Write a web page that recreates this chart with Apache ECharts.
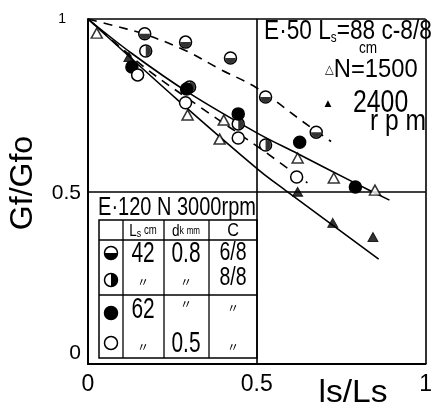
<!DOCTYPE html>
<html><head><meta charset="utf-8">
<script src="https://cdn.jsdelivr.net/npm/echarts@6/dist/echarts.min.js"></script>
<style>html,body{margin:0;padding:0;background:#fff}#c{width:435px;height:412px}</style>
</head><body><div id="c"></div>
<script>
const FONT = '"Liberation Sans",Arial,sans-serif';

// E-120, N = 3000 rpm test points (ls/Ls, Gf/Gfo)
const halfLowerPts = [[0.168,0.957],[0.289,0.933],[0.422,0.887],[0.526,0.774],[0.676,0.672]]; // Ls 42 cm, dk 0.8 mm, C 6/8
const halfRightPts = [[0.171,0.907],[0.301,0.803],[0.445,0.696],[0.526,0.635]];             // Ls 42 cm, dk 0.8 mm, C 8/8
const filledPts    = [[0.13,0.861],[0.292,0.797],[0.445,0.725],[0.627,0.643],[0.792,0.513]];  // Ls 62 cm, dk 0.8 mm
const openPts      = [[0.147,0.838],[0.289,0.757],[0.445,0.655],[0.618,0.542]];               // Ls 62 cm, dk 0.5 mm
// E-50, Ls = 88 cm, c = 8/8
const tri1500 = [[0.026,0.959],[0.295,0.722],[0.402,0.707],[0.39,0.652],[0.621,0.597],[0.728,0.539],[0.85,0.504]];
const tri2400 = [[0.121,0.89],[0.621,0.499],[0.725,0.409],[0.844,0.368]];

// hand-fitted trend curves
const dashUpper  = [[0,1],[0.06,0.985],[0.17,0.955],[0.29,0.908],[0.39,0.855],[0.5,0.8],[0.64,0.7],[0.72,0.645]];
const dashLower  = [[0,1],[0.17,0.858],[0.332,0.745],[0.517,0.62],[0.65,0.525]];
const solidUpper = [[0,1],[0.13,0.9],[0.3,0.785],[0.5,0.67],[0.62,0.61],[0.79,0.525],[0.893,0.475]];
const solidLower = [[0,1],[0.266,0.765],[0.506,0.562],[0.584,0.504],[0.861,0.304]];

const xTicks = [0, 0.5, 1];
const yTicks = [0, 0.5, 1];

const HALF_LOWER = 'path://M0,0 A1,1 0 0 0 2,0 Z';
const HALF_RIGHT = 'path://M0,0 A1,1 0 0 1 0,2 Z';
const R = 12;

function curve(data, dashed) {
  return { type: 'line', data, smooth: 0.35, symbol: 'none', silent: true, z: 2,
    lineStyle: { color: '#000', width: 1.6, type: dashed ? [9, 7] : 'solid' } };
}
function ring(data, fill) {
  return { type: 'scatter', data, symbol: 'circle', symbolSize: R, z: 3,
    itemStyle: { color: fill, borderColor: '#000', borderWidth: 1.5, opacity: 1 } };
}

const chart = echarts.init(document.getElementById('c'), null, { renderer: 'canvas' });

// lettering helper: narrow stencil-like text via horizontal scaling
function txt(x, y, text, size, sx, extra) {
  return { type: 'text', x, y, scaleX: sx == null ? 0.78 : sx, silent: true,
    style: Object.assign({ text, font: size + 'px ' + FONT, fill: '#000', align: 'center', verticalAlign: 'middle' }, extra || {}) };
}
function ditto(x, y) { return { type: 'text', x, y, silent: true, style: { text: '〃', font: '12px "Noto Sans CJK JP"', fill: '#000', align: 'center', verticalAlign: 'middle' } }; }

// table for the E-120 legend
const T = { x0: 99, x1: 257, y0: 220, y1: 358, cols: [123, 164, 209], rows: [240, 295] };
const tableEls = [];
tableEls.push({ type: 'rect', shape: { x: T.x0, y: T.y0, width: T.x1 - T.x0, height: T.y1 - T.y0 },
  style: { fill: '#fff', stroke: '#000', lineWidth: 1.5 } });
T.cols.forEach(c => tableEls.push({ type: 'line', shape: { x1: c, y1: T.y0, x2: c, y2: T.y1 }, style: { stroke: '#000', lineWidth: 1.3 } }));
T.rows.forEach(r => tableEls.push({ type: 'line', shape: { x1: T.x0, y1: r, x2: T.x1, y2: r }, style: { stroke: '#000', lineWidth: 1.3 } }));
// symbol column
const sx = 111, sr = 6.5;
[[253, 'lower'], [280, 'right'], [313, 'full'], [343, 'none']].forEach(([y, kind]) => {
  tableEls.push({ type: 'circle', shape: { cx: sx, cy: y, r: sr }, style: { fill: kind === 'full' ? '#000' : '#fff', stroke: '#000', lineWidth: 1.5 } });
  if (kind === 'lower') tableEls.push({ type: 'sector', shape: { cx: sx, cy: y, r: sr, startAngle: 0, endAngle: Math.PI }, style: { fill: '#000' } });
  if (kind === 'right') tableEls.push({ type: 'sector', shape: { cx: sx, cy: y, r: sr, startAngle: -Math.PI / 2, endAngle: Math.PI / 2 }, style: { fill: '#000' } });
});
tableEls.push(
  txt(177, 208, 'E·120 N 3000rpm', 25, 0.8),
  { type: 'text', x: 143, y: 231, scaleX: 0.8, silent: true, style: { text: '{a|L}{b|s} {c|cm}', align: 'center', verticalAlign: 'middle',
      rich: { a: { font: '17px ' + FONT }, b: { font: '11px ' + FONT, padding: [6, 0, 0, 0] }, c: { font: '12px ' + FONT } } } },
  { type: 'text', x: 186, y: 231, scaleX: 0.8, silent: true, style: { text: '{a|d}{b|k} {c|mm}', align: 'center', verticalAlign: 'middle',
      rich: { a: { font: '17px ' + FONT }, b: { font: '11px ' + FONT }, c: { font: '10px ' + FONT } } } },
  txt(233, 231, 'C', 18, 0.9),
  txt(143, 254, '42', 29, 0.72), txt(186, 254, '0.8', 29, 0.72), txt(233, 253, '6/8', 26, 0.75), txt(233, 278, '8/8', 26, 0.75),
  ditto(143, 282), ditto(186, 282),
  txt(143, 310, '62', 29, 0.72), ditto(186, 304), ditto(233, 308),
  ditto(143, 347), txt(186, 344, '0.5', 29, 0.72), ditto(233, 347)
);

const option = {
  animation: false,
  backgroundColor: '#fff',
  grid: { left: 88, top: 19, right: 1, bottom: 48 },
  xAxis: {
    type: 'value', min: 0, max: 1, interval: 0.5,
    axisLine: { show: true, lineStyle: { color: '#000', width: 2 } },
    axisTick: { show: false },
    splitLine: { show: true, lineStyle: { color: '#000', width: 1.6 } },
    axisLabel: { color: '#000', fontFamily: FONT, fontSize: 23, margin: 9,
      formatter: v => xTicks.indexOf(v) >= 0 ? String(v) : '' }
  },
  yAxis: {
    type: 'value', min: 0, max: 1, interval: 0.5,
    axisLine: { show: true, lineStyle: { color: '#000', width: 2 } },
    axisTick: { show: false },
    splitLine: { show: true, lineStyle: { color: '#000', width: 1.6 } },
    axisLabel: { color: '#000', margin: 7, align: 'right',
      formatter: v => v === 0 ? '{z|0}' : v === 1 ? '{o|1}' : '{h|' + v + '}',
      rich: {
        z: { fontFamily: FONT, fontSize: 21, align: 'right', padding: [0, 0, 22, 0] },
        h: { fontFamily: FONT, fontSize: 21, align: 'right', padding: [4, 0, 0, 0] },
        o: { fontFamily: FONT, fontSize: 14, align: 'right', padding: [0, 15, 0, 0] }
      } }
  },
  series: [
    curve(dashUpper, true), curve(dashLower, true), curve(solidUpper, false), curve(solidLower, false),
    ring(halfLowerPts, '#fff'),
    { type: 'scatter', data: halfLowerPts, symbol: HALF_LOWER, symbolSize: [R - 1.5, (R - 1.5) / 2], symbolOffset: [0, (R - 1.5) / 4], z: 4, itemStyle: { color: '#000' } },
    ring(halfRightPts, '#fff'),
    { type: 'scatter', data: halfRightPts, symbol: HALF_RIGHT, symbolSize: [(R - 1.5) / 2, R - 1.5], symbolOffset: [(R - 1.5) / 4, 0], z: 4, itemStyle: { color: '#000' } },
    ring(filledPts, '#000'),
    ring(openPts, '#fff'),
    { type: 'scatter', data: tri1500, symbol: 'triangle', symbolSize: [11, 10], z: 3,
      itemStyle: { color: '#fff', borderColor: '#000', borderWidth: 1.5 } },
    { type: 'scatter', data: tri2400, symbol: 'triangle', symbolSize: [10, 9], z: 3,
      itemStyle: { color: '#000', borderColor: '#000', borderWidth: 1 } }
  ],
  graphic: [
    { type: 'group', silent: true, z: 10, children: tableEls },
    { type: 'text', x: 264, y: 32, scaleX: 0.84, silent: true, z: 10, style: { text: '{a|E·50 L}{s|s}{a|=88 c-8/8}', verticalAlign: 'middle',
        rich: { a: { font: '27px ' + FONT, fill: '#000' }, s: { font: '14px ' + FONT, fill: '#000', padding: [12, 0, 0, 0] } } } },
    txt(368, 49, 'cm', 16, 0.85),
    { type: 'text', x: 325, y: 70, scaleX: 0.95, silent: true, z: 10, style: { text: '{t|△}{a|N=1500}', verticalAlign: 'middle',
        rich: { t: { font: '12px "DejaVu Sans"', fill: '#000' }, a: { font: '25px ' + FONT, fill: '#000' } } } },
    { type: 'text', x: 328, y: 104, silent: true, z: 10, style: { text: '▲', font: '9px "DejaVu Sans"', fill: '#000', align: 'center', verticalAlign: 'middle' } },
    txt(353, 103, '2400', 31, 0.8, { align: 'left' }),
    txt(370, 122, 'r p m', 29, 0.85, { align: 'left' }),
    txt(353, 393, 'ls/Ls', 32, 1.05),
    { type: 'text', x: 23, y: 183, rotation: Math.PI / 2, silent: true, style: { text: 'Gf/Gfo', font: '32px ' + FONT, fill: '#000', align: 'center', verticalAlign: 'middle' } }
  ]
};
chart.setOption(option);
</script>
</body></html>
